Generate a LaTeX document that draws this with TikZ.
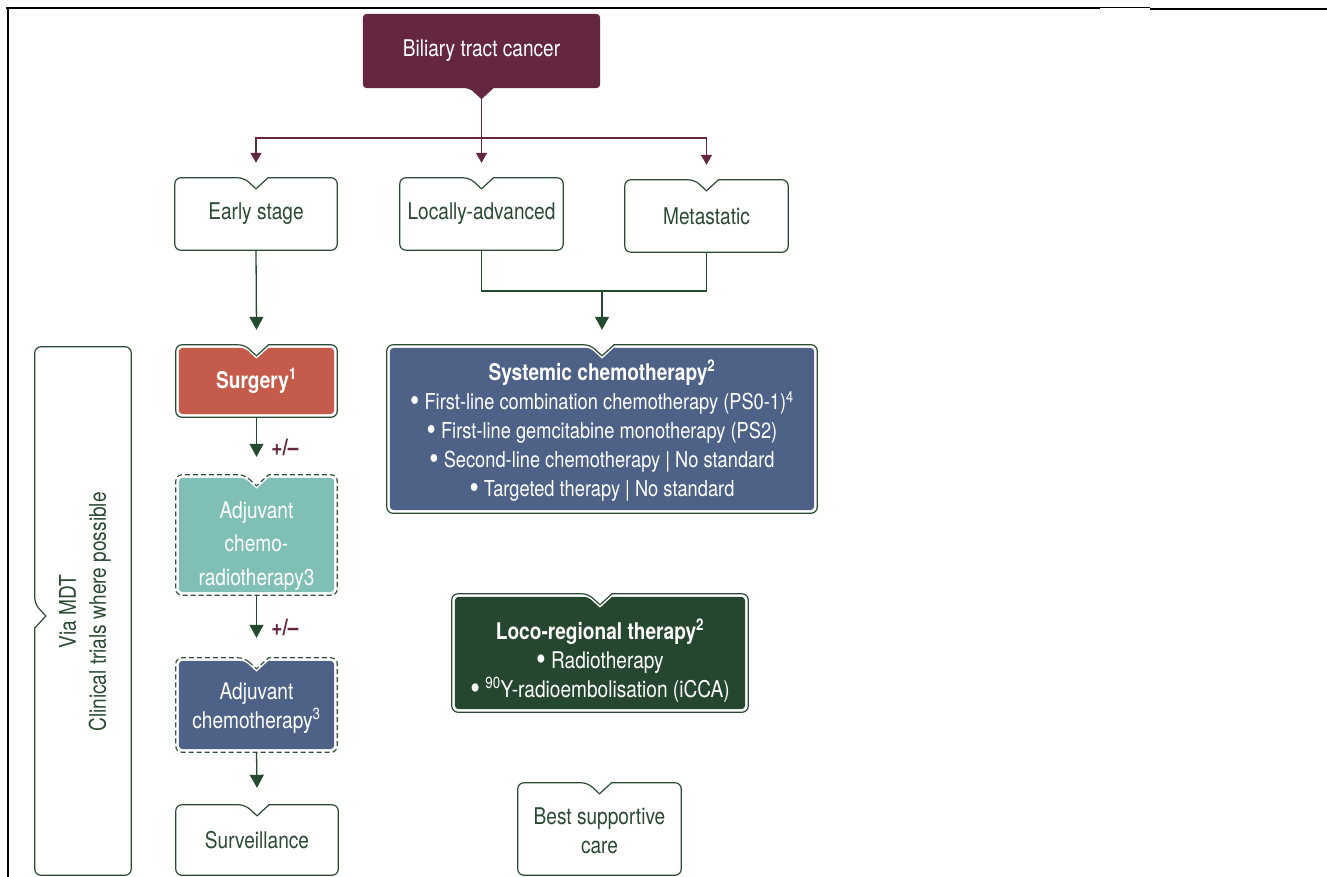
\documentclass[tikz,border=0pt]{standalone}
\usepackage{fontspec}
\setmainfont{TeX Gyre Heros}[FakeStretch=0.83]
\usetikzlibrary{calc,arrows.meta}
\definecolor{maroon}{HTML}{652641}
\definecolor{dgreen}{HTML}{2A4A33}
\definecolor{agreen}{HTML}{244A30}
\definecolor{surgred}{HTML}{C55B4B}
\definecolor{myteal}{HTML}{7FBFB5}
\definecolor{slate}{HTML}{4E6288}
\definecolor{lgreen}{HTML}{26472F}
\pgfdeclarelayer{background}
\pgfsetlayers{background,main}
\newcommand\bul{\raisebox{-0.12ex}{\scalebox{1.45}{\textbullet}}}
% top-notched box outline: node, inset, radius, options
\newcommand\tnotch[4]{%
  \path[#4] ($(#1.north)+(-12,#2)$) -- ($(#1.north)+(0,11+#2)$) -- ($(#1.north)+(12,#2)$)
    [rounded corners=#3] -- ($(#1.north east)+(-#2,#2)$) -- ($(#1.south east)+(-#2,-#2)$)
    -- ($(#1.south west)+(#2,-#2)$) -- ($(#1.north west)+(#2,#2)$) -- cycle;}
% left-notched box outline
\newcommand\lnotch[4]{%
  \path[#4] ($(#1.west)+(#2,-7)$) -- ($(#1.west)+(11+#2,5)$) -- ($(#1.west)+(#2,17)$)
    [rounded corners=#3] -- ($(#1.south west)+(#2,-#2)$) -- ($(#1.south east)+(-#2,-#2)$)
    -- ($(#1.north east)+(-#2,#2)$) -- ($(#1.north west)+(#2,#2)$) -- cycle;}
\begin{document}
\begin{tikzpicture}[x=1pt,y=-1pt,
  txt/.style={inner sep=0pt, align=center, font=\fontsize{23}{29}\selectfont, text=dgreen},
  wtxt/.style={txt, text=white},
  boxn/.style={draw=none, inner sep=0pt},
  gline/.style={draw=agreen, line width=1.3pt},
  garrow/.style={gline, -{Triangle[width=14pt,length=13pt]}},
  mline/.style={draw=maroon, line width=1.3pt},
  marrow/.style={mline, -{Triangle[width=11pt,length=10pt]}},
  plain/.style={draw=dgreen, fill=white, line width=1.2pt},
  solidout/.style={draw=dgreen, fill=white, line width=1.2pt},
  dashout/.style={draw=agreen!85!gray, dash pattern=on 5pt off 3pt, fill=white, line width=1.2pt},
  pm/.style={inner sep=0pt, text=maroon, font=\fontsize{23}{24}\selectfont\bfseries}
  ]
\useasboundingbox (0,0) rectangle (1327,877);
\clip (0,0) rectangle (1327,877);

% nodes
\node[wtxt, minimum width=237pt, minimum height=74pt] (btc) at (481.5,51) {Biliary tract cancer};
\node[txt, minimum width=162pt, minimum height=72pt] (early) at (256,214) {Early stage};
\node[txt, minimum width=163pt, minimum height=72pt] (locadv) at (481.5,214) {Locally-advanced};
\node[txt, minimum width=163pt, minimum height=72pt] (meta) at (706.5,216) {Metastatic};
\node[wtxt, font=\fontsize{23}{29}\selectfont\bfseries, minimum width=161pt, minimum height=72pt] (surg) at (256.5,381) {Surgery\textsuperscript{1}};
\node[boxn, minimum width=161pt, minimum height=120pt] (acr) at (256.5,535) {};
\node[wtxt, font=\fontsize{23}{33.5}\selectfont] (acrtext) at ($(acr)+(0,11)$) {Adjuvant\\chemo-\\radiotherapy3};
\node[boxn, minimum width=161pt, minimum height=94pt] (ac) at (256.5,705) {};
\node[wtxt] (actext) at ($(ac)+(0,3)$) {Adjuvant\\chemotherapy\textsuperscript{3}};
\node[txt, minimum width=162pt, minimum height=70pt] (surv) at (257,840) {Surveillance};
\node[boxn, minimum width=96pt, minimum height=528pt] (mdt) at (83,611) {};
\node[txt, rotate=90, font=\fontsize{23}{30}\selectfont] (mdttext) at (85,612) {Via MDT\\Clinical trials where possible};
\node[boxn, minimum width=430pt, minimum height=168pt] (sys) at (602,429) {};
\node[wtxt, font=\fontsize{22}{29}\selectfont] (systext) at ($(sys)+(0,2)$) {{\bfseries\fontsize{23}{29}\selectfont Systemic chemotherapy\textsuperscript{2}}\\
  \bul\ First-line combination chemotherapy (PS0-1)\textsuperscript{4}\\
  \bul\ First-line gemcitabine monotherapy (PS2)\\
  \bul\ Second-line chemotherapy | No standard\\
  \bul\ Targeted therapy | No standard};
\node[boxn, minimum width=296pt, minimum height=118pt] (loco) at (600,653) {};
\node[wtxt] (locotext) at ($(loco)+(0,8)$) {{\bfseries Loco-regional therapy\textsuperscript{2}}\\
  \bul\ Radiotherapy\\
  \bul\ \textsuperscript{90}Y-radioembolisation (iCCA)};
\node[boxn, minimum width=163pt, minimum height=92pt] (bsc) at (599.5,829) {};
\node[txt] (bsctext) at ($(bsc)+(0,2)$) {Best supportive\\care};
\node[pm] (pm1) at (285,447) {+/--};
\node[pm] (pm2) at (285,627) {+/--};

% outlines
\begin{pgfonlayer}{background}
\fill[white] (0,0) rectangle (1327,877);
\draw[black, line width=2pt] (6,8) -- (1100,8);
\draw[black, line width=1pt] (1100,8) -- (1150,8);
\draw[black, line width=2.5pt] (1150,9) -- (1327,9);
\draw[black, line width=2.5pt] (8,7) -- (8,877);
\fill[maroon, rounded corners=4] ($(btc.south)+(12,0)$) -- (btc.south east) -- (btc.north east) -- (btc.north west) -- (btc.south west) -- ($(btc.south)+(-12,0)$) [sharp corners] -- ($(btc.south)+(0,11)$) -- cycle;
\tnotch{early}{0}{6}{plain}
\tnotch{locadv}{0}{6}{plain}
\tnotch{meta}{0}{6}{plain}
\tnotch{surv}{0}{6}{plain}
\tnotch{bsc}{0}{6}{plain}
\lnotch{mdt}{0}{6}{plain}
\tnotch{surg}{0}{6}{solidout}
\tnotch{surg}{3}{4}{fill=surgred}
\tnotch{acr}{0}{6}{dashout}
\tnotch{acr}{3}{4}{fill=myteal}
\tnotch{ac}{0}{6}{dashout}
\tnotch{ac}{3}{4}{fill=slate}
\tnotch{sys}{0}{6}{solidout}
\tnotch{sys}{3}{4}{fill=slate}
\tnotch{loco}{0}{6}{solidout}
\tnotch{loco}{3}{4}{fill=lgreen}
\end{pgfonlayer}

% connectors
\coordinate (btctip) at ($(btc.south)+(0,11)$);
\coordinate (split) at (481.5,138);
\coordinate (join) at (602,291);
\draw[mline] (btctip) -- (split);
\draw[marrow] (split) -| ([yshift=15pt]early.north);
\draw[marrow] (split) -- ([yshift=15pt]locadv.north);
\draw[marrow] (split) -| ([yshift=15pt]meta.north);
\draw[gline] (locadv.south) |- (join) -| (meta.south);
\draw[garrow] (join) -- ([yshift=15pt]sys.north);
\draw[garrow] (early.south) -- ([yshift=15pt]surg.north);
\draw[garrow] (surg.south) -- ([yshift=18pt]acr.north);
\draw[garrow] (acr.south) -- ([yshift=20pt]ac.north);
\draw[garrow] (ac.south) -- ([yshift=17pt]surv.north);
\end{tikzpicture}
\end{document}
